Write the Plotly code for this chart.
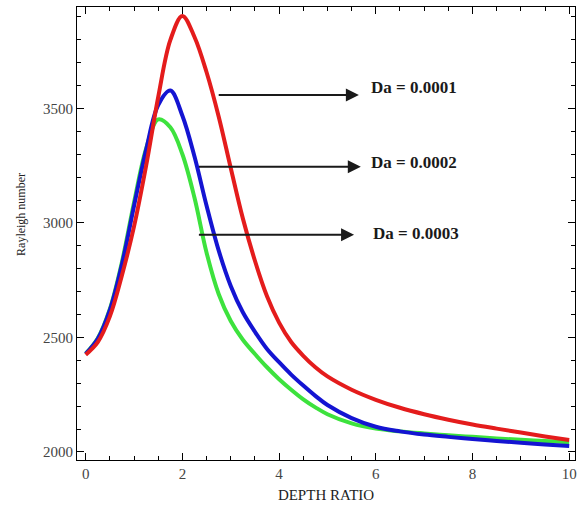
import plotly.graph_objects as go

# Depth ratio grid and Rayleigh numbers
x_vals = [0, 0.25, 0.5, 0.75, 1.0, 1.25, 1.5, 1.75, 2.0, 2.25, 2.5, 2.75, 3.0, 3.25, 3.5, 3.75, 4.0, 4.25, 4.5, 4.75,
          5.0, 5.5, 6.0, 6.5, 7.0, 7.5, 8.0, 8.5, 9.0, 9.5, 10.0]
ra_red = [2425, 2480, 2592, 2772, 2985, 3250, 3550, 3798, 3904, 3812, 3658, 3465, 3240, 3020, 2835, 2680, 2565, 2480, 2420, 2370,
          2330, 2272, 2228, 2193, 2165, 2141, 2120, 2102, 2085, 2068, 2052]
ra_blue = [2428, 2494, 2620, 2820, 3075, 3320, 3515, 3578, 3468, 3290, 3075, 2880, 2725, 2610, 2525, 2450, 2392, 2338, 2290, 2245,
           2205, 2148, 2110, 2090, 2076, 2066, 2057, 2048, 2040, 2033, 2026]
ra_green = [2430, 2497, 2625, 2830, 3090, 3325, 3452, 3418, 3300, 3110, 2870, 2690, 2572, 2490, 2428, 2370, 2318, 2272, 2230, 2195,
            2165, 2125, 2102, 2090, 2081, 2073, 2066, 2059, 2053, 2048, 2043]

labels = ["Da = 0.0001", "Da = 0.0002", "Da = 0.0003"]
x_ticks = [0, 2, 4, 6, 8, 10]
y_ticks = [2000, 2500, 3000, 3500]

fig = go.Figure()
for ys, col in [(ra_green, "#3de23d"), (ra_blue, "#1414d2"), (ra_red, "#e41c1c")]:
    fig.add_trace(go.Scatter(x=x_vals, y=ys, mode="lines", line=dict(color=col, width=4, shape="spline", smoothing=1.0),
                             showlegend=False, hoverinfo="skip"))

# arrows: (tail_x, tail_y, head_x, text_x, text_y)
arrows = [(2.72, 3559, 5.65, 5.86, 3590), (2.31, 3245, 5.69, 5.86, 3266), (2.31, 2948, 5.55, 5.9, 2956)]
for (tx, ty, hx, lx, ly), lab in zip(arrows, labels):
    fig.add_annotation(x=hx, y=ty, ax=tx, ay=ty, axref="x", ayref="y", xref="x", yref="y", text="",
                       showarrow=True, arrowhead=2, arrowsize=1.3, arrowwidth=2, arrowcolor="#1a1a1a")
    fig.add_annotation(x=lx, y=ly, xref="x", yref="y", text="<b>" + lab + "</b>", showarrow=False,
                       xanchor="left", yanchor="middle", font=dict(family="Liberation Serif", size=17, color="#1a1a1a"))

fig.add_annotation(x=0, xshift=-56, y=3035, xref="paper", yref="y", text="Rayleigh number", showarrow=False,
                   textangle=-90, xanchor="center", yanchor="middle",
                   font=dict(family="Liberation Serif", size=12, color="#222"))

axis_common = dict(showline=True, linecolor="black", linewidth=1, mirror="ticks", ticks="inside",
                   ticklen=7, tickcolor="black", tickwidth=1, showgrid=False, zeroline=False,
                   tickfont=dict(family="Liberation Serif", size=15, color="#444"))
fig.update_xaxes(range=[-0.18, 10.12], tickvals=x_ticks, **axis_common,
                 minor=dict(dtick=0.5, ticks="inside", ticklen=4, tickcolor="black", showgrid=False),
                 title=dict(text="DEPTH RATIO", font=dict(family="Liberation Serif", size=15, color="#222"), standoff=8))
fig.update_yaxes(range=[1965, 3943], tickvals=y_ticks, **axis_common,
                 minor=dict(dtick=100, ticks="inside", ticklen=4, tickcolor="black", showgrid=False))
fig.update_layout(width=579, height=508, margin=dict(l=77, r=2, t=7, b=48),
                  plot_bgcolor="white", paper_bgcolor="white")
fig.write_html("out.html")
